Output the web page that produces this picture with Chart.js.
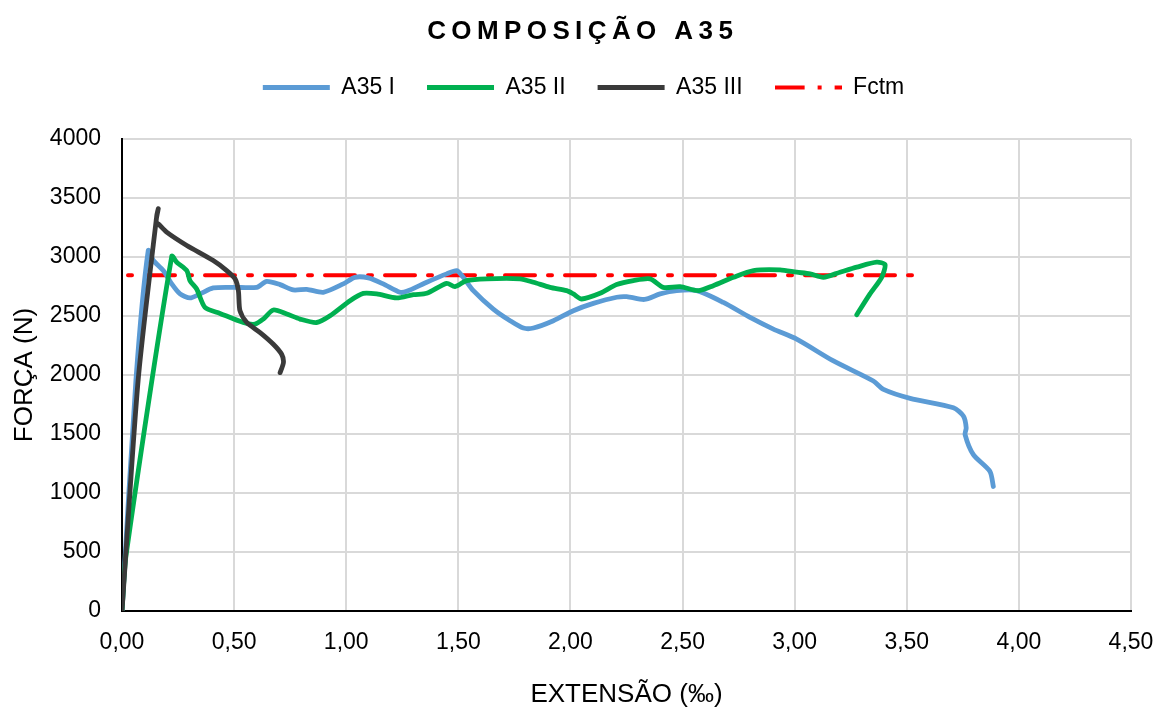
<!DOCTYPE html>
<html>
<head>
<meta charset="utf-8">
<script src="https://cdn.jsdelivr.net/npm/chart.js@4/dist/chart.umd.min.js"></script>
<style>
  body { margin: 0; background: #fff; }
  #contenitore { width: 1160px; height: 713px; }
</style>
</head>
<body>
<div id="contenitore"><canvas id="grafico"></canvas></div>
<script>
var titulo = "COMPOSIÇÃO A35";
var tituloX = "EXTENSÃO (‰)";
var tituloY = "FORÇA (N)";
var nomes = ["A35 I", "A35 II", "A35 III", "Fctm"];

var xA35I = [0, 0.062, 0.117, 0.14, 0.184, 0.222, 0.259, 0.303, 0.348, 0.407, 0.496, 0.601, 0.645, 0.705, 0.764, 0.824, 0.898, 0.987, 1.039, 1.099, 1.165, 1.240, 1.270, 1.359, 1.448, 1.493, 1.522, 1.567, 1.656, 1.731, 1.790, 1.835, 1.924, 2.013, 2.102, 2.206, 2.251, 2.330, 2.400, 2.474, 2.563, 2.682, 2.801, 2.905, 3.009, 3.173, 3.351, 3.396, 3.515, 3.708, 3.753, 3.765, 3.760, 3.797, 3.871, 3.886];
var yA35I = [0, 1955, 3055, 2970, 2885, 2772, 2687, 2653, 2687, 2738, 2743, 2743, 2794, 2766, 2721, 2726, 2701, 2772, 2828, 2823, 2772, 2701, 2709, 2786, 2857, 2885, 2828, 2715, 2559, 2460, 2398, 2398, 2460, 2545, 2607, 2659, 2664, 2640, 2687, 2715, 2715, 2615, 2488, 2389, 2304, 2119, 1949, 1878, 1802, 1722, 1651, 1552, 1495, 1325, 1183, 1055];

var xA35II = [0, 0.018, 0.222, 0.244, 0.289, 0.303, 0.333, 0.370, 0.437, 0.541, 0.593, 0.630, 0.675, 0.735, 0.794, 0.868, 0.928, 1.017, 1.076, 1.136, 1.225, 1.300, 1.359, 1.448, 1.485, 1.537, 1.627, 1.775, 1.835, 1.909, 1.983, 2.013, 2.050, 2.132, 2.206, 2.281, 2.355, 2.414, 2.489, 2.570, 2.637, 2.727, 2.816, 2.935, 3.009, 3.069, 3.128, 3.202, 3.277, 3.366, 3.403, 3.388, 3.336, 3.277];
var yA35II = [0, 470, 3007, 2956, 2885, 2800, 2729, 2573, 2522, 2445, 2431, 2474, 2551, 2517, 2474, 2445, 2502, 2630, 2692, 2687, 2653, 2681, 2692, 2777, 2749, 2800, 2815, 2815, 2786, 2743, 2715, 2687, 2644, 2692, 2766, 2800, 2815, 2743, 2749, 2715, 2757, 2828, 2885, 2891, 2871, 2857, 2828, 2871, 2914, 2956, 2936, 2828, 2687, 2511];

var xA35III = [0, 0.072, 0.155, 0.162, 0.152, 0.165, 0.199, 0.289, 0.407, 0.467, 0.504, 0.519, 0.526, 0.556, 0.616, 0.675, 0.712, 0.720, 0.705];
var yA35III = [0, 1955, 3350, 3410, 3296, 3275, 3211, 3098, 2970, 2885, 2815, 2715, 2545, 2445, 2360, 2261, 2176, 2105, 2020];

var xFctm = [0, 3.54];
var yFctm = [2845, 2845];

var ticksX = [0, 0.5, 1, 1.5, 2, 2.5, 3, 3.5, 4, 4.5];
var ticksY = [0, 500, 1000, 1500, 2000, 2500, 3000, 3500, 4000];

var tracejado = [30, 13, 4, 13];

function punti(xs, ys)
{
  var lista = [];
  for (var i = 0; i < xs.length; i++) lista.push({x: xs[i], y: ys[i]});
  return lista;
}

// campione tratteggiato per la legenda di Fctm
function campioneFctm()
{
  var c = document.createElement('canvas');
  c.width = 67;
  c.height = 6;
  var g = c.getContext('2d');
  g.strokeStyle = '#ff0000';
  g.lineWidth = 4;
  g.setLineDash(tracejado);
  g.beginPath();
  g.moveTo(0, 3);
  g.lineTo(67, 3);
  g.stroke();
  return c;
}

// titolo con spaziatura tra le lettere, come nell'originale
var pluginTitolo = {
  id: 'tituloEspacado',
  afterDraw: function(chart) {
    var ctx = chart.ctx;
    ctx.save();
    ctx.font = 'bold 26px "Liberation Sans", Arial, sans-serif';
    ctx.letterSpacing = '5.4px';
    ctx.fillStyle = '#000';
    ctx.textAlign = 'center';
    ctx.textBaseline = 'middle';
    ctx.fillText(titulo, chart.width / 2 + 2.7, 32);
    ctx.restore();
  }
};

// spazio sotto la legenda e piccolo spostamento orizzontale
var pluginLegenda = {
  id: 'legendaEspaco',
  afterInit: function(chart) {
    var fitOriginale = chart.legend.fit;
    chart.legend.fit = function() {
      fitOriginale.call(this);
      this.height += 30;
    };
  },
  afterLayout: function(chart) {
    chart.legend.left += 31;
  }
};

Chart.defaults.font.family = '"Liberation Sans", Arial, sans-serif';
Chart.defaults.color = '#000';

new Chart(document.getElementById("grafico"),
{
  type: 'line',
  data:
  {
    datasets:
    [
      {
        label: nomes[0],
        data: punti(xA35I, yA35I),
        borderColor: "#5b9bd5",
        borderWidth: 4.8,
        pointStyle: 'line',
        order: 3
      },
      {
        label: nomes[1],
        data: punti(xA35II, yA35II),
        borderColor: "#00b050",
        borderWidth: 4.8,
        pointStyle: 'line',
        order: 2
      },
      {
        label: nomes[2],
        data: punti(xA35III, yA35III),
        borderColor: "#3a3a3a",
        borderWidth: 4.8,
        pointStyle: 'line',
        order: 1
      },
      {
        label: nomes[3],
        data: punti(xFctm, yFctm),
        borderColor: "#ff0000",
        borderWidth: 4,
        borderDash: tracejado,
        borderDashOffset: 37,
        pointStyle: campioneFctm(),
        tension: 0,
        order: 4
      }
    ]
  },
  options:
  {
    responsive: true,
    maintainAspectRatio: false,
    animation: false,
    layout: { padding: { top: 44, left: 5, right: 29, bottom: 3 } },
    elements: {
      point: { radius: 0, hoverRadius: 0 },
      line: { tension: 0.25, borderCapStyle: 'round', borderJoinStyle: 'round', fill: false }
    },
    plugins:
    {
      title: { display: false },
      tooltip: { enabled: false },
      legend:
      {
        position: 'top',
        labels:
        {
          usePointStyle: true,
          pointStyleWidth: 67,
          padding: 32,
          font: { size: 23 },
          color: '#000',
          sort: function(a, b) { return a.datasetIndex - b.datasetIndex; },
          generateLabels: function(chart) {
            var voci = Chart.defaults.plugins.legend.labels.generateLabels(chart);
            voci.forEach(function(v) { v.lineCap = 'butt'; });
            return voci;
          }
        }
      }
    },
    scales:
    {
      x:
      {
        type: 'linear',
        min: 0,
        max: 4.5,
        afterBuildTicks: function(scale) {
          scale.ticks = ticksX.map(function(v) { return {value: v}; });
        },
        afterFit: function(scale) {
          scale.height = 99;
          scale.paddingLeft = 0;
          scale.paddingRight = 0;
        },
        ticks: {
          padding: 18,
          font: { size: 23 },
          color: '#000',
          maxRotation: 0,
          callback: function(v) { return v.toFixed(2).replace('.', ','); }
        },
        grid: { color: '#d9d9d9', lineWidth: 2, drawTicks: false },
        border: { color: '#000', width: 2 },
        title: {
          display: true,
          text: tituloX,
          font: { size: 26 },
          color: '#000',
          padding: { top: 4, bottom: 0 }
        }
      },
      y:
      {
        min: 0,
        max: 4000,
        afterBuildTicks: function(scale) {
          scale.ticks = ticksY.map(function(v) { return {value: v}; });
        },
        afterFit: function(scale) {
          scale.width = 117;
        },
        ticks: {
          padding: 21,
          font: { size: 23 },
          color: '#000',
          callback: function(v) { return String(v); }
        },
        grid: { color: '#d9d9d9', lineWidth: 2, drawTicks: false },
        border: { color: '#000', width: 2 },
        title: {
          display: true,
          text: tituloY,
          font: { size: 26 },
          color: '#000',
          padding: { top: 4, bottom: 0 }
        }
      }
    }
  },
  plugins: [pluginTitolo, pluginLegenda]
});
</script>
</body>
</html>
